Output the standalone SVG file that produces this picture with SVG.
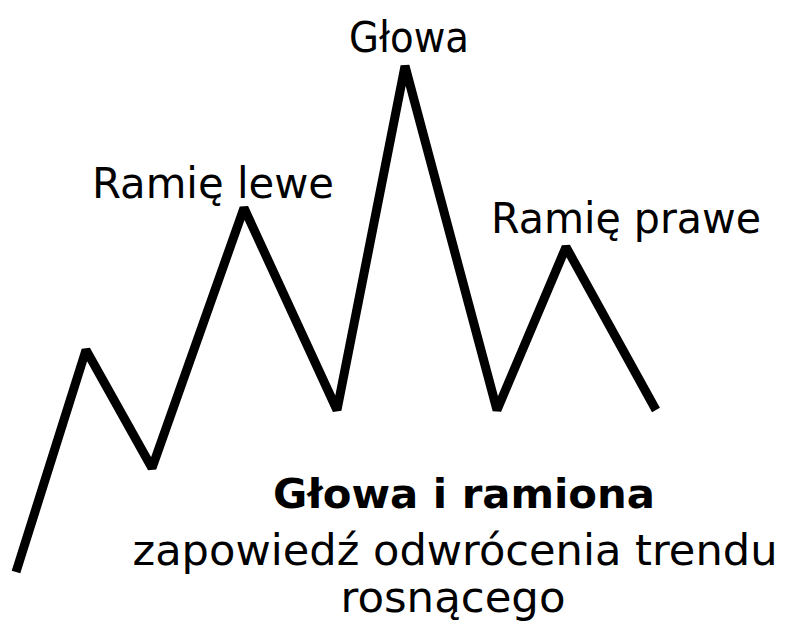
<svg xmlns="http://www.w3.org/2000/svg" width="788" height="630" viewBox="0 0 788 630">
<style>
.t{font-family:"DejaVu Sans","Liberation Sans",sans-serif;font-size:42px;fill:#000}
.b{font-weight:bold;font-size:40px}
.ln{fill:none;stroke:#000;stroke-width:9;stroke-linejoin:bevel}
</style>
<rect width="788" height="630" fill="#fff"/>
<g id="connectors">
<polyline class="ln" points="16,572 86,350 152,468 244,208 337,410 405,66 497,410 566,247 656,410"/>
</g>
<g id="label-glowa"><text class="t" x="409" y="52" text-anchor="middle" textLength="120" lengthAdjust="spacingAndGlyphs">Głowa</text></g>
<g id="label-ramie-lewe"><text class="t" x="92" y="198" textLength="242" lengthAdjust="spacingAndGlyphs">Ramię lewe</text></g>
<g id="label-ramie-prawe"><text class="t" x="491" y="233" textLength="270" lengthAdjust="spacingAndGlyphs">Ramię prawe</text></g>
<g id="title">
<text class="t b" x="464" y="508" text-anchor="middle" textLength="382" lengthAdjust="spacingAndGlyphs">Głowa i ramiona</text>
<text class="t" x="455" y="565" text-anchor="middle" textLength="645" lengthAdjust="spacingAndGlyphs">zapowiedź odwrócenia trendu</text>
<text class="t" x="453" y="612" text-anchor="middle" textLength="225" lengthAdjust="spacingAndGlyphs">rosnącego</text>
</g>
</svg>
